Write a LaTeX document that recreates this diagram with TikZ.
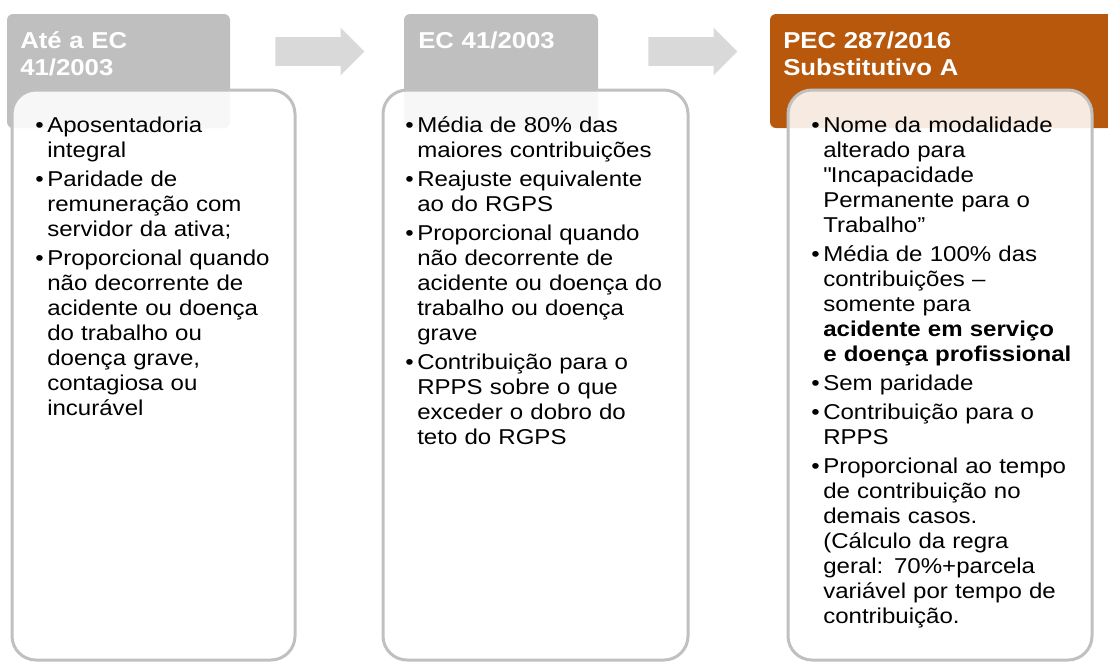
\documentclass[tikz,border=0pt]{standalone}
\usepackage{fontspec}
\setmainfont{Liberation Sans}[FakeStretch=1.12]
\usetikzlibrary{shapes.arrows}

\definecolor{hdrgray}{RGB}{191,191,191}
\definecolor{hdrorange}{RGB}{184,88,12}
\definecolor{arrowgray}{RGB}{217,217,217}
\definecolor{cardline}{RGB}{192,192,192}

\newlength{\bulind}
\setlength{\bulind}{9pt}
\newcommand{\bul}{\leftskip=\bulind\parskip=3pt\noindent\hspace*{-\bulind}\makebox[\bulind][l]{\textbullet}}

\tikzset{
	hdr/.style={rounded corners=4.5pt, minimum height=85.5pt, inner sep=0pt, outer sep=0pt, anchor=north west},
	hdrtext/.style={text=white, font=\fontsize{17.25pt}{20.25pt}\selectfont\bfseries, text width=165pt, align=left, inner sep=0pt, anchor=base west},
	card/.style={draw=cardline, line width=2.25pt, fill=white, fill opacity=0.88, rounded corners=18pt, minimum height=427.5pt, inner sep=0pt, outer sep=0pt, anchor=north west},
	cardtext/.style={text=black, font=\fontsize{16.1pt}{18.75pt}\selectfont, text width=210pt, align=left, inner sep=0pt, anchor=base west},
	blockarrow/.style={single arrow, fill=arrowgray, minimum height=66.75pt, inner xsep=0pt, inner ysep=10.5pt, single arrow head extend=7.125pt, anchor=tail}
}

\begin{document}
\begin{tikzpicture}[x=0.75pt, y=-0.75pt]
	\useasboundingbox (0,0) rectangle (1108,662);
	\clip (0,0) rectangle (1108,662);

	% headers
	\node[hdr, fill=hdrgray, minimum width=167.25pt] (h1) at (7,14) {};
	\node[hdr, fill=hdrgray, minimum width=145.5pt] (h2) at (404,14) {};
	\node[hdr, fill=hdrorange, minimum width=260pt] (h3) at (770,14) {};

	\node[hdrtext] (h1t) at (20,48) {Até a EC\\41/2003};
	\node[hdrtext] (h2t) at (418,48) {EC 41/2003};
	\node[hdrtext, text width=220pt] (h3t) at (783,48) {PEC 287/2016\\Substitutivo A};

	% arrows between headers
	\node[blockarrow] (arr1) at (275,51.5) {};
	\node[blockarrow] (arr2) at (648,51.5) {};

	% cards
	\node[card, minimum width=212.25pt] (c1) at (12,90) {};
	\node[card, minimum width=228.75pt] (c2) at (383,90) {};
	\node[card, minimum width=228pt] (c3) at (788,90) {};

	\node[cardtext, text width=195pt] (c1t) at (35,132) {%
		\bul Aposentadoria\\integral\par
		\bul Paridade de\\remuneração com\\servidor da ativa;\par
		\bul Proporcional quando\\não decorrente de\\acidente ou doença\\do trabalho ou\\doença grave,\\contagiosa ou\\incurável\par};
	\node[cardtext] (c2t) at (405,132) {%
		\bul Média de 80\% das\\maiores contribuições\par
		\bul Reajuste equivalente\\ao do RGPS\par
		\bul Proporcional quando\\não decorrente de\\acidente ou doença do\\trabalho ou doença\\grave\par
		\bul Contribuição para o\\RPPS sobre o que\\exceder o dobro do\\teto do RGPS\par};
	\node[cardtext] (c3t) at (811,132) {%
		\bul Nome da modalidade\\alterado para\\\textquotedbl Incapacidade\\Permanente para o\\Trabalho”\par
		\bul Média de 100\% das\\contribuições –\\somente para\\\textbf{acidente em serviço}\\\textbf{e doença profissional}\par
		\bul Sem paridade\par
		\bul Contribuição para o\\RPPS\par
		\bul Proporcional ao tempo\\de contribuição no\\demais casos.\\(Cálculo da regra\\geral: 70\%+parcela\\variável por tempo de\\contribuição.\par};
\end{tikzpicture}
\end{document}
